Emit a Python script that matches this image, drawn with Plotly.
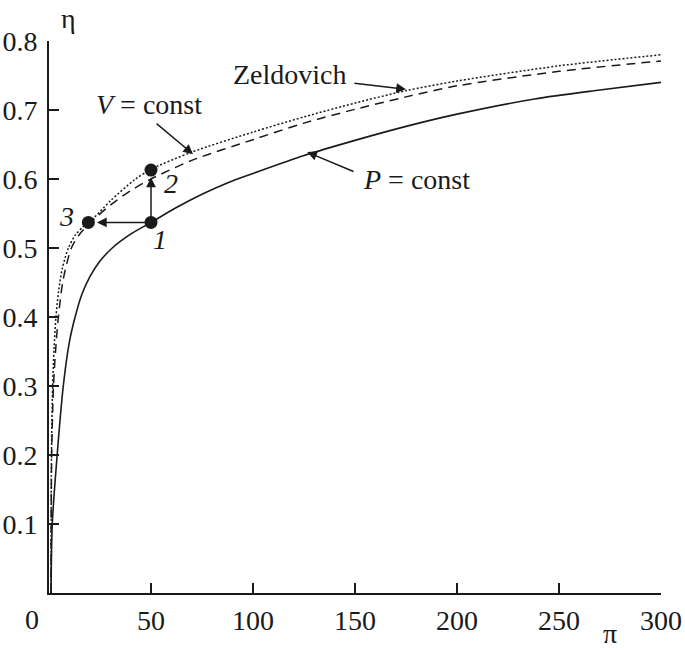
import plotly.graph_objects as go

# P = const (solid)
p_pi = [1, 1.6, 4, 7, 10, 12.8, 16, 20, 25, 31, 40, 50, 62, 75, 88, 100, 125, 150,
        176, 200, 238, 270, 300]
p_eta = [0, 0.1, 0.2, 0.3, 0.364, 0.4, 0.432, 0.458, 0.481, 0.5, 0.52, 0.537, 0.558,
         0.578, 0.595, 0.608, 0.634, 0.656, 0.677, 0.694, 0.716, 0.729, 0.740]

# V = const (dashed)
v_pi = [1, 1.3, 2.2, 3.2, 4.6, 7, 11, 15, 20, 30, 40, 50, 70, 100, 125, 150, 175,
        200, 250, 300]
v_eta = [0, 0.2, 0.3, 0.35, 0.4, 0.455, 0.5, 0.52, 0.536, 0.562, 0.583, 0.600,
         0.627, 0.657, 0.681, 0.701, 0.719, 0.735, 0.756, 0.771]

# Zeldovich (dotted)
z_pi = [1, 1.2, 1.8, 2.5, 3.4, 4.6, 6.5, 9.5, 13, 16.8, 21.7, 30, 42, 50, 70, 100,
        125, 150, 175, 200, 250, 300]
z_eta = [0, 0.2, 0.3, 0.355, 0.4, 0.435, 0.47, 0.5, 0.519, 0.531, 0.543, 0.568,
         0.599, 0.614, 0.639, 0.668, 0.690, 0.710, 0.728, 0.742, 0.764, 0.780]

# cycle points 1, 2, 3
pt_pi = [50, 50, 19.3]
pt_eta = [0.537, 0.613, 0.537]

x_ticks = [50, 100, 150, 200, 250, 300]
y_ticks = [0.1, 0.2, 0.3, 0.4, 0.5, 0.6, 0.7, 0.8]

FONT = "Liberation Serif, Times New Roman, serif"
INK = "#1a1a1a"
FS = 28

fig = go.Figure()
fig.add_trace(go.Scatter(x=p_pi, y=p_eta, mode="lines",
                         line=dict(color=INK, width=1.6, shape="spline", smoothing=0.8)))
fig.add_trace(go.Scatter(x=v_pi, y=v_eta, mode="lines",
                         line=dict(color=INK, width=1.5, dash="9px,6px", shape="spline", smoothing=0.8)))
fig.add_trace(go.Scatter(x=z_pi, y=z_eta, mode="lines",
                         line=dict(color=INK, width=1.5, dash="2px,2px", shape="spline", smoothing=0.8)))
fig.add_trace(go.Scatter(x=pt_pi, y=pt_eta, mode="markers", marker=dict(color=INK, size=13)))


def arrow(x, y, ax, ay):
    fig.add_annotation(x=x, y=y, ax=ax, ay=ay, xref="x", yref="y", axref="x", ayref="y",
                       text="", showarrow=True, arrowhead=2, arrowsize=1.3,
                       arrowwidth=1.5, arrowcolor=INK)


def label(x, y, text, xanchor="center"):
    fig.add_annotation(x=x, y=y, xref="x", yref="y", text=text, showarrow=False,
                       xanchor=xanchor, font=dict(size=FS, color=INK, family=FONT))


# process arrows 1 -> 2, 1 -> 3
arrow(50, 0.602, 50, 0.537)
arrow(23.5, 0.537, 50, 0.537)
# curve callouts
arrow(175, 0.730, 149, 0.739)
arrow(70.6, 0.636, 52, 0.682)
arrow(126.6, 0.639, 150, 0.610)

label(118, 0.751, "Zeldovich")
label(49, 0.708, "<i>V</i> = const")
label(180, 0.600, "<i>P</i> = const")
label(54.5, 0.512, "<i>1</i>")
label(60, 0.594, "<i>2</i>")
label(8.8, 0.545, "<i>3</i>")

fig.add_annotation(x=0, y=0, xref="x", yref="y", text="0", showarrow=False,
                   xshift=-17, yshift=-26, font=dict(size=FS, color=INK, family=FONT))
fig.add_annotation(x=275, y=0, xref="x", yref="y", text="π", showarrow=False,
                   yshift=-40, font=dict(size=FS, color=INK, family=FONT))
fig.add_annotation(x=0, y=0.8, xref="x", yref="y", text="η", showarrow=False,
                   xshift=19, yshift=23, font=dict(size=FS, color=INK, family=FONT))

fig.update_layout(
    width=685, height=650,
    margin=dict(l=49, r=24, t=41, b=57),
    paper_bgcolor="white", plot_bgcolor="white",
    showlegend=False,
    font=dict(family=FONT, size=FS, color=INK),
)
fig.update_xaxes(range=[0, 300], tickvals=x_ticks, ticks="inside", ticklen=10,
                 tickwidth=1.5, tickcolor=INK, showline=True, linecolor=INK,
                 linewidth=2, showgrid=False, zeroline=False, ticklabelstandoff=1,
                 automargin=False)
fig.update_yaxes(range=[0, 0.8], tickvals=y_ticks, ticks="inside", ticklen=10,
                 tickwidth=1.5, tickcolor=INK, showline=True, linecolor=INK,
                 linewidth=2, showgrid=False, zeroline=False, ticklabelstandoff=4,
                 automargin=False)

# drop the default 8px page margin so the figure fills the window
fig.write_html("out.html", config={"displayModeBar": False},
               post_script="document.body.style.margin = '0';")
